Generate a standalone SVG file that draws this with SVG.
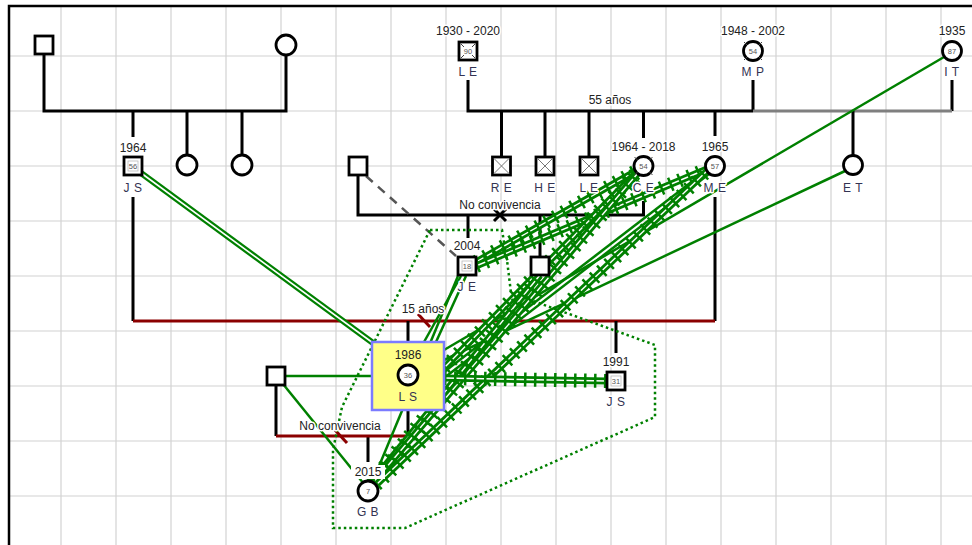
<svg xmlns="http://www.w3.org/2000/svg" xmlns:xlink="http://www.w3.org/1999/xlink" width="972" height="545" viewBox="0 0 972 545">
<style>
.grid{stroke:#d2d2d2;stroke-width:1.2}
.fam{fill:none;stroke:#000;stroke-width:3}
.famg{fill:none;stroke:#7f7f7f;stroke-width:3}
.red{fill:none;stroke:#8b0000;stroke-width:3}
.sym{fill:#fff;stroke:#000;stroke-width:2.8}
.xin{stroke:#777;stroke-width:1}
.dm{stroke:#444;stroke-width:1}
.agebox{fill:#fff;stroke:#bbb;stroke-width:0.8}
.age{font-family:"Liberation Sans",Arial,sans-serif;font-size:7.5px;fill:#555;text-anchor:middle}
.yr{font-family:"Liberation Sans",Arial,sans-serif;font-size:12px;fill:#222;text-anchor:middle}
.nm{font-family:"Liberation Sans",Arial,sans-serif;font-size:12px;fill:#333352;text-anchor:middle;letter-spacing:0.5px}
.halo{paint-order:stroke;stroke:#fff;stroke-width:3px;stroke-linejoin:round}
.pl{fill:none;stroke:#008000;stroke-width:2.5}
.dbl{fill:none;stroke:#008000;stroke-width:6}
.dblw{fill:none;stroke:#fff;stroke-width:1.6}
.hb{fill:none;stroke:#008000;stroke-width:7}
.hw{fill:none;stroke:#fff;stroke-width:1.4}
.ht{fill:none;stroke:#008000;stroke-width:14;stroke-dasharray:2.5 7.5}
.dot{fill:none;stroke:#008000;stroke-width:2.5;stroke-dasharray:2.5 3}
.dash{fill:none;stroke:#555;stroke-width:2.5;stroke-dasharray:9 7}
</style>
<defs>
<path id="hJE_CE" d="M476 262 L636 171"/>
<path id="hJE_ME" d="M476 266 L707 169"/>
<path id="hLS_CE" d="M444 368 L637 172"/>
<path id="hGB_CE" d="M373 483 L638 173"/>
<path id="hGB_ME" d="M376 485 L707 171"/>
<path id="hGB_SQ" d="M371 483 L540 275"/>
<path id="hLS_JS" d="M444 378 L607 381"/>
<path id="dJS_LS" d="M141 173 L373 343"/>
</defs>
<rect width="972" height="545" fill="#fff"/>
<g id="grid">
<path class="grid" d="M61 6V545M116 6V545M171 6V545M226 6V545M281 6V545M336 6V545M391 6V545M446 6V545M501 6V545M556 6V545M611 6V545M666 6V545M721 6V545M776 6V545M831 6V545M886 6V545M941 6V545"/>
<path class="grid" d="M9 56H972M9 111H972M9 166H972M9 221H972M9 276H972M9 331H972M9 386H972M9 441H972M9 496H972"/>
<path d="M9 545V6H972" fill="none" stroke="#000" stroke-width="2.5"/>
</g>
<g id="connectors">
<path class="fam" d="M44 55V111H286V55"/>
<path class="fam" d="M133 111V137M187 111V155M242 111V155"/>
<path class="fam" d="M468 80V111H753M753 80V111M952 80V111"/>
<path class="famg" d="M753 111H952"/>
<path class="fam" d="M501.5 111V157M545 111V157M589 111V157M643.5 111V138M715 111V136M853 111V155"/>
<path class="fam" d="M133 197V321M715 197V321"/>
<path class="fam" d="M358 175V215H643.5V201"/>
<path class="fam" d="M494 209L506 221M506 209L494 221"/>
<path class="dash" d="M366 176L456 256"/>
<path class="fam" d="M468 215V238M540 215V257"/>
<path class="red" d="M133 321H715"/>
<path class="red" d="M418 314L430 327"/>
<path class="fam" d="M408 321V342M616 321V353"/>
<path class="fam" d="M276 385V436M408 408V436M368 436V462"/>
<path class="red" d="M276 436H408"/>
<path class="red" d="M335 430L347 443"/>
<path class="dot" d="M430 230L502 230L507 260L511 293L655 345L655 417L405 528L333 528L333 450L342 407Z"/>
<g id="emotional">
<use href="#dJS_LS" class="dbl"/><use href="#dJS_LS" class="dblw"/>
<path class="pl" d="M285 376H372"/>
<path class="pl" d="M283 384L364 484"/>
<path class="pl" d="M444 350L944 57"/>
<path class="pl" d="M444 360L845 171"/>
<path class="pl" d="M444 372L707 170"/>
<path class="pl" d="M444 378L709 174"/>
<path class="pl" d="M461 276L424 342"/>
<path class="pl" d="M466 276L436 342"/>
<path class="pl" d="M458 276L372 483"/>
<use href="#hJE_CE" class="hb"/><use href="#hJE_CE" class="hw"/><use href="#hJE_CE" class="ht"/>
<use href="#hJE_ME" class="hb"/><use href="#hJE_ME" class="hw"/><use href="#hJE_ME" class="ht"/>
<use href="#hLS_CE" class="hb"/><use href="#hLS_CE" class="hw"/><use href="#hLS_CE" class="ht"/>
<use href="#hGB_SQ" class="hb"/><use href="#hGB_SQ" class="hw"/><use href="#hGB_SQ" class="ht"/>
<use href="#hGB_CE" class="hb"/><use href="#hGB_CE" class="hw"/><use href="#hGB_CE" class="ht"/>
<use href="#hGB_ME" class="hb"/><use href="#hGB_ME" class="hw"/><use href="#hGB_ME" class="ht"/>
<use href="#hLS_JS" class="hb"/><use href="#hLS_JS" class="hw"/><use href="#hLS_JS" class="ht"/>
</g>
<text class="yr halo" x="610" y="103.5">55 años</text>
<text class="yr halo" x="500" y="209">No convivencia</text>
<text class="yr halo" x="423" y="313">15 años</text>
<text class="yr halo" x="340" y="429.5">No convivencia</text>
</g>
<g id="n_gf">
<rect class="sym" x="35" y="36" width="18" height="18"/>
</g>
<g id="n_gm">
<circle class="sym" cx="286" cy="45" r="10"/>
</g>
<g id="n_js64">
<text class="yr halo" x="133" y="152">1964</text>
<rect class="sym" x="124" y="157" width="18" height="18"/>
<rect class="agebox" x="128" y="161" width="10" height="10"/>
<text class="age" x="133" y="169">56</text>
<text class="nm halo" x="133" y="192">J S</text>
</g>
<g id="n_s1"><circle class="sym" cx="187" cy="165" r="10"/></g>
<g id="n_s2"><circle class="sym" cx="242" cy="165" r="10"/></g>
<g id="n_le">
<text class="yr halo" x="468" y="35">1930 - 2020</text>
<rect class="sym" x="459" y="42" width="18" height="18"/>
<path class="dm" d="M461 44L464 47M475 44L472 47M461 58L464 55M475 58L472 55"/>
<text class="age" x="468" y="53.5">90</text>
<text class="nm halo" x="468" y="76">L E</text>
</g>
<g id="n_mp">
<text class="yr halo" x="753" y="35">1948 - 2002</text>
<circle class="sym" cx="753" cy="51" r="9.5"/>
<path class="dm" d="M744 42L747 45M762 42L759 45M744 60L747 57M762 60L759 57"/>
<text class="age" x="753" y="53.5">54</text>
<text class="nm halo" x="753" y="76">M P</text>
</g>
<g id="n_it">
<text class="yr halo" x="952" y="35">1935</text>
<circle class="sym" cx="952" cy="51" r="9.5"/>
<text class="age" x="952" y="53.5">87</text>
<text class="nm halo" x="952" y="76">I T</text>
</g>
<g id="n_re">
<rect class="sym" x="492.5" y="157" width="18" height="18"/>
<path class="xin" d="M494 158.5L509 173.5M509 158.5L494 173.5"/>
<text class="nm halo" x="501.5" y="192">R E</text>
</g>
<g id="n_he">
<rect class="sym" x="536" y="157" width="18" height="18"/>
<path class="xin" d="M537.5 158.5L552.5 173.5M552.5 158.5L537.5 173.5"/>
<text class="nm halo" x="545" y="192">H E</text>
</g>
<g id="n_le2">
<rect class="sym" x="580" y="157" width="18" height="18"/>
<path class="xin" d="M581.5 158.5L596.5 173.5M596.5 158.5L581.5 173.5"/>
<text class="nm halo" x="589" y="192">L E</text>
</g>
<g id="n_ce">
<text class="yr halo" x="643.5" y="151">1964 - 2018</text>
<circle class="sym" cx="643.5" cy="166" r="9.5"/>
<path class="dm" d="M634.5 157L637.5 160M652.5 157L649.5 160M634.5 175L637.5 172M652.5 175L649.5 172"/>
<text class="age" x="643.5" y="168.5">54</text>
<text class="nm halo" x="643.5" y="192">C E</text>
</g>
<g id="n_me">
<text class="yr halo" x="715" y="151">1965</text>
<circle class="sym" cx="715" cy="166" r="9.5"/>
<text class="age" x="715" y="168.5">57</text>
<text class="nm halo" x="715" y="192">M E</text>
</g>
<g id="n_et">
<circle class="sym" cx="853" cy="165" r="9.5"/>
<text class="nm halo" x="853" y="192">E T</text>
</g>
<g id="n_sq358">
<rect class="sym" x="349" y="157" width="18" height="18"/>
</g>
<g id="n_je">
<text class="yr halo" x="467" y="249.5">2004</text>
<rect class="sym" x="458" y="257" width="18" height="18"/>
<rect class="agebox" x="462" y="261" width="10" height="10"/>
<text class="age" x="467" y="269">18</text>
<text class="nm halo" x="467" y="291">J E</text>
</g>
<g id="n_sq540">
<rect class="sym" x="531" y="257" width="18" height="18"/>
</g>
<g id="n_ls">
<rect x="372" y="342" width="72" height="68" fill="#ffff88" stroke="#7b7bff" stroke-width="2.5"/>
<text class="yr" x="408" y="359">1986</text>
<circle class="sym" cx="408" cy="375" r="10"/>
<text class="age" x="408" y="377.5">36</text>
<text class="nm" x="408" y="401">L S</text>
</g>
<g id="n_js91">
<text class="yr halo" x="616" y="366">1991</text>
<rect class="sym" x="607" y="372" width="18" height="18"/>
<rect class="agebox" x="611" y="376" width="10" height="10"/>
<text class="age" x="616" y="384">31</text>
<text class="nm halo" x="616" y="406">J S</text>
</g>
<g id="n_sq276">
<rect class="sym" x="267" y="367" width="18" height="18"/>
</g>
<g id="n_gb">
<rect x="351" y="465" width="34" height="14" fill="#fff"/>
<text class="yr" x="368" y="476">2015</text>
<circle class="sym" cx="368" cy="491" r="10"/>
<text class="age" x="368" y="493.5">7</text>
<text class="nm halo" x="368" y="516">G B</text>
</g>
</svg>
